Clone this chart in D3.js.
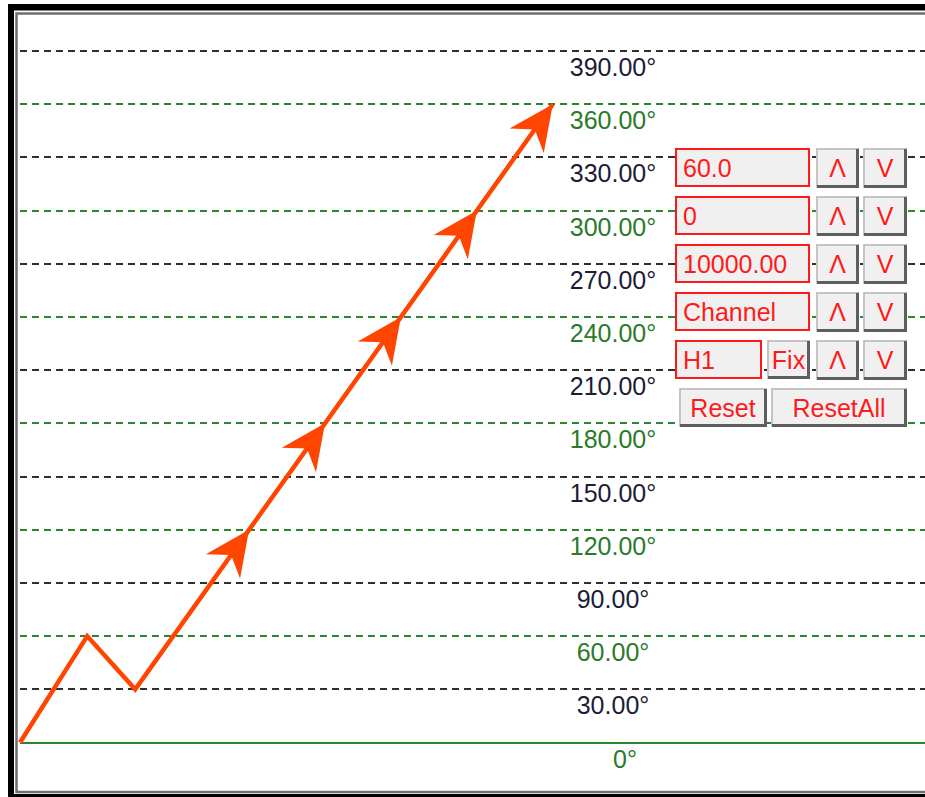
<!DOCTYPE html>
<html lang="en">
<head>
    <meta charset="UTF-8">
    <title>Channel</title>
    <script src="https://cdn.jsdelivr.net/npm/d3@7"></script>
    <style>
    html, body{padding: 0; margin: 0; background-color: #fff; overflow: hidden;}
    svg{display: block; font-family: "Liberation Sans", Arial, sans-serif;}
    </style>
</head>
<body>
    <div class="marco"></div>

    <script>
    // levels of the grid (degrees) and their labels
    const niveles = [0, 30, 60, 90, 120, 150, 180, 210, 240, 270, 300, 330, 360, 390]
    const etiquetas = ["0°", "30.00°", "60.00°", "90.00°", "120.00°", "150.00°", "180.00°",
        "210.00°", "240.00°", "270.00°", "300.00°", "330.00°", "360.00°", "390.00°"]

    // zigzag path: bar index and value
    const barras = [0, 14, 24, 111]
    const valores = [0, 60, 30, 360]
    // arrow heads sit where the last leg crosses these levels
    const flechas = [120, 180, 240, 300, 360]

    // panel
    const campos = ["60.0", "0", "10000.00", "Channel", "H1"]
    const botonesFila = ["Λ", "V"]
    const botonesReset = ["Reset", "ResetAll"]

    var width = 925, height = 797,
        verde = "#2b862b", verdeTexto = "#2a7a2a", negro = "#2e2e2e", naranja = "#ff4500", rojo = "#ff1a1a"

    var svg = d3.select(".marco").append("svg")
        .attr("width", width)
        .attr("height", height);

    // marco del grafico
    svg.append("rect").attr("x", 8).attr("y", 4).attr("width", 960).attr("height", 820).attr("fill", "#000");
    svg.append("rect").attr("x", 14).attr("y", 10.5).attr("width", 960).attr("height", 783.5).attr("fill", "#fff");
    svg.append("rect").attr("x", 16.5).attr("y", 13.5).attr("width", 960).attr("height", 778.5)
        .attr("fill", "#fff").attr("stroke", "#6e6e6e").attr("stroke-width", 2.5);

    var x = d3.scaleLinear().domain([0, 100]).range([20, 500]),
        y = d3.scaleLinear().domain([0, 390]).range([742.5, 51]);

    var g = svg.append("g");

    // lineas de nivel
    g.selectAll("line.nivel")
        .data(niveles)
        .enter().append("line")
        .attr("class", "nivel")
        .attr("x1", 20).attr("x2", width)
        .attr("y1", d => Math.round(y(d))).attr("y2", d => Math.round(y(d)))
        .attr("stroke", (d, i) => i % 2 == 0 ? verde : negro)
        .attr("stroke-width", 2)
        .attr("stroke-dasharray", d => d == 0 ? null : "7,5");

    // etiquetas
    g.selectAll("text.etiqueta")
        .data(niveles)
        .enter().append("text")
        .attr("class", "etiqueta")
        .attr("x", d => d == 0 ? 625 : 613)
        .attr("y", d => Math.round(y(d)) + 25)
        .attr("text-anchor", "middle")
        .attr("font-size", 25)
        .attr("fill", (d, i) => i % 2 == 0 ? verdeTexto : "#1c1c36")
        .text((d, i) => etiquetas[i]);

    // zigzag
    var puntos = barras.map((b, i) => [x(b), y(valores[i])]);
    g.append("path")
        .attr("d", d3.line()(puntos))
        .attr("fill", "none")
        .attr("stroke", naranja)
        .attr("stroke-width", 4.5)
        .attr("stroke-linejoin", "miter");

    // puntas de flecha sobre el ultimo tramo
    var ult = barras.length - 1,
        angulo = Math.atan2(puntos[ult][1] - puntos[ult - 1][1], puntos[ult][0] - puntos[ult - 1][0]) * 180 / Math.PI;
    var barraDe = v => barras[ult - 1] + (v - valores[ult - 1]) / (valores[ult] - valores[ult - 1]) * (barras[ult] - barras[ult - 1]);

    g.selectAll("path.flecha")
        .data(flechas)
        .enter().append("path")
        .attr("class", "flecha")
        .attr("d", "M0,0L-45,-21L-31,0L-45,21Z")
        .attr("fill", naranja)
        .attr("transform", d => `translate(${x(barraDe(d))}, ${y(d)}) rotate(${angulo})`);

    // panel de controles
    var panel = svg.append("g").attr("font-size", 25);

    function boton(px, py, w, h, texto) {
        var b = panel.append("g");
        b.append("rect").attr("x", px).attr("y", py).attr("width", w).attr("height", h).attr("fill", "#f0f0f0");
        b.append("path").attr("d", `M${px + 1},${py + h}V${py + 1}H${px + w}`)
            .attr("fill", "none").attr("stroke", "#c4c4c4").attr("stroke-width", 2);
        b.append("path").attr("d", `M${px + 1},${py + h - 1.5}H${px + w - 1.5}V${py + 1}`)
            .attr("fill", "none").attr("stroke", "#5e5e5e").attr("stroke-width", 3);
        b.append("text").attr("x", px + w / 2).attr("y", py + 29)
            .attr("text-anchor", "middle").attr("fill", rojo).text(texto);
    }

    campos.forEach((c, i) => {
        var py = 148 + i * 48,
            ancho = i == 4 ? 87 : 135;
        panel.append("rect").attr("x", 676).attr("y", py + 1).attr("width", ancho - 2).attr("height", 37)
            .attr("fill", "#f0f0f0").attr("stroke", rojo).attr("stroke-width", 2);
        panel.append("text").attr("x", 683).attr("y", py + 29).attr("fill", rojo).text(c);
        if (i == 4) boton(767, py, 43, 39, "Fix");
        boton(816, py, 43, 40, botonesFila[0]);
        boton(863, py, 44, 40, botonesFila[1]);
    });

    boton(679, 388, 88, 39, botonesReset[0]);
    boton(771, 388, 136, 39, botonesReset[1]);
    </script>
</body>
</html>
